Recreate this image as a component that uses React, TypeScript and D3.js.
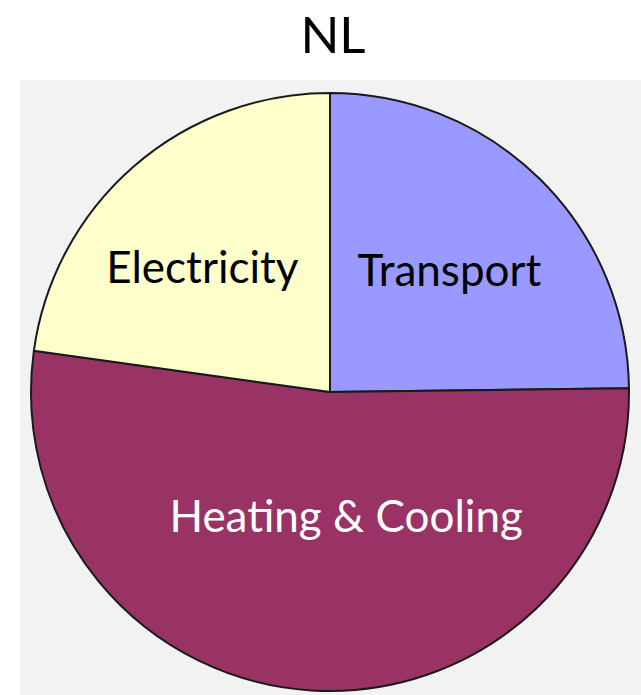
import React, {useEffect, useRef} from "react";
import * as d3 from "d3";

const title = "NL";
const categories = ["Transport", "Heating & Cooling", "Electricity"];
const shares = [24.8, 52.4, 22.8];
const colors = ["#9999ff", "#993366", "#ffffcc"];
const textColors = ["#000000", "#ffffff", "#000000"];

export default function App() {
    const svgRef = useRef<SVGSVGElement | null>(null);

    useEffect(() => {
        if (!svgRef.current) return;
        const width = 641;
        const height = 695;
        const svg = d3.select(svgRef.current);
        svg.selectAll("*").remove();

        svg.append("rect")
            .attr("width", width)
            .attr("height", height)
            .attr("fill", "#ffffff");

        // plot area background
        svg.append("rect")
            .attr("x", 20)
            .attr("y", 80)
            .attr("width", width - 20)
            .attr("height", height - 80)
            .attr("fill", "#f2f2f2");

        svg.append("text")
            .attr("x", 333)
            .attr("y", 53)
            .attr("text-anchor", "middle")
            .attr("font-family", "Lato, 'Open Sans', sans-serif")
            .attr("font-size", 51)
            .attr("fill", "#000")
            .text(title);

        const cx = 330, cy = 392, r = 299;
        const pie = d3.pie<number>().sort(null).value((d) => d);
        const arcs = pie(shares);
        const arc = d3.arc<d3.PieArcDatum<number>>().innerRadius(0).outerRadius(r);

        const g = svg.append("g").attr("transform", `translate(${cx},${cy})`);
        g.selectAll("path")
            .data(arcs)
            .enter()
            .append("path")
            .attr("d", arc)
            .attr("fill", (_, i) => colors[i])
            .attr("stroke", "#1a1a1a")
            .attr("stroke-width", 2)
            .attr("stroke-linejoin", "round");

        // label radius per slice (the big slice has its label closer in)
        const labelRadius = [170, 125, 170];
        const nudge = [[0, 0], [24, 0], [-16, 4]];
        g.selectAll("text")
            .data(arcs)
            .enter()
            .append("text")
            .attr("transform", (d, i) => {
                const la = d3.arc<d3.PieArcDatum<number>>()
                    .innerRadius(labelRadius[i])
                    .outerRadius(labelRadius[i]);
                const [x, y] = la.centroid(d);
                return `translate(${x + nudge[i][0]},${y + nudge[i][1]})`;
            })
            .attr("text-anchor", "middle")
            .attr("dy", "0.35em")
            .attr("font-family", "Lato, 'Open Sans', sans-serif")
            .attr("font-size", 44)
            .attr("fill", (_, i) => textColors[i])
            .text((_, i) => categories[i]);
    }, []);

    return (
        <svg
            ref={svgRef}
            width={641}
            height={695}
            style={{position: "absolute", left: 0, top: 0, display: "block"}}
        />
    );
}
